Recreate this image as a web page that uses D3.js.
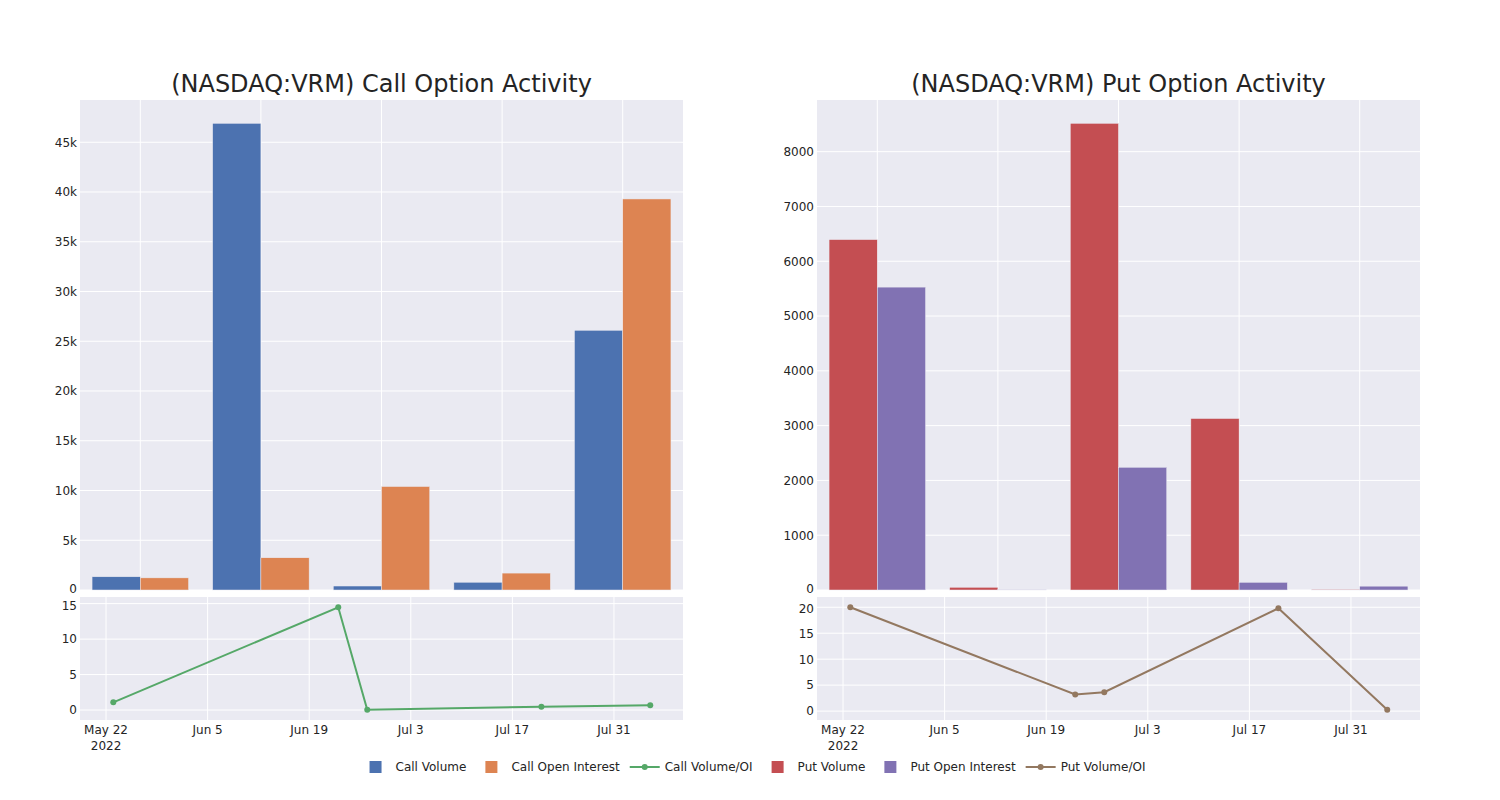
<!DOCTYPE html>
<html>
<head>
<meta charset="utf-8">
<script src="https://cdn.jsdelivr.net/npm/d3@7"></script>
<style>
  html, body { margin: 0; padding: 0; background: #fff; }
  svg text { font-family: "DejaVu Sans", verdana, arial, sans-serif; fill: rgb(36,36,36); }
</style>
</head>
<body>
<svg id="chart" width="1500" height="800"></svg>
<script>
// ---------------- DATA ----------------
const barCategories = ["A", "B", "C", "D", "E"];
const callVolume = [1330, 46900, 400, 780, 26100];
const callOpenInterest = [1220, 3240, 10400, 1700, 39300];
const putVolume = [6395, 50, 8517, 3130, 12];
const putOpenInterest = [5528, 6, 2240, 140, 70];

const ratioDates = ["2022-05-23", "2022-06-23", "2022-06-27", "2022-07-21", "2022-08-05"];
const callVolumeOI = [1.08, 14.49, 0.04, 0.46, 0.66];
const putVolumeOI = [20.0, 3.19, 3.64, 19.8, 0.26];

const titles = ["(NASDAQ:VRM) Call Option Activity", "(NASDAQ:VRM) Put Option Activity"];
const legendLabels = ["Call Volume", "Call Open Interest", "Call Volume/OI", "Put Volume", "Put Open Interest", "Put Volume/OI"];

// ---------------- STYLE ----------------
const FONT = '"DejaVu Sans", verdana, arial, sans-serif';
const colors = {
  callVol: "#4c72b0", callOI: "#dd8452", callRatio: "#55a868",
  putVol: "#c44e52", putOI: "#8172b3", putRatio: "#937860"
};
const plotBg = "rgb(234,234,242)";

const svg = d3.select("#chart");
const parse = d3.timeParse("%Y-%m-%d");
const dates = ratioDates.map(parse);

const panels = [
  { x0: 80, x1: 683, title: titles[0], a: callVolume, b: callOpenInterest, ca: colors.callVol, cb: colors.callOI,
    ratio: callVolumeOI, cr: colors.callRatio, fmt: d3.format("~s"), step: 5000, rstep: 5 },
  { x0: 817, x1: 1420, title: titles[1], a: putVolume, b: putOpenInterest, ca: colors.putVol, cb: colors.putOI,
    ratio: putVolumeOI, cr: colors.putRatio, fmt: d3.format("d"), step: 1000, rstep: 5 }
];
const topY0 = 100, topY1 = 590, botY0 = 597, botY1 = 720;

panels.forEach(p => {
  const g = svg.append("g");
  g.append("rect").attr("x", p.x0).attr("y", topY0).attr("width", p.x1 - p.x0).attr("height", topY1 - topY0).attr("fill", plotBg);
  g.append("rect").attr("x", p.x0).attr("y", botY0).attr("width", p.x1 - p.x0).attr("height", botY1 - botY0).attr("fill", plotBg);

  // ---- top bar panel ----
  const x = d3.scaleBand().domain(barCategories).range([p.x0, p.x1]).paddingInner(0.2).paddingOuter(0.1);
  const xc = d3.scaleBand().domain(barCategories).range([p.x0, p.x1]);
  const maxV = d3.max(p.a.concat(p.b));
  const y = d3.scaleLinear().domain([0, maxV * 1.05]).range([topY1, topY0]);
  const yTicks = d3.range(0, maxV * 1.05, p.step);

  g.append("g").selectAll("line").data(yTicks).join("line")
    .attr("x1", p.x0).attr("x2", p.x1).attr("y1", d => y(d)).attr("y2", d => y(d))
    .attr("stroke", "#fff").attr("stroke-width", 1);
  g.append("g").selectAll("line").data(barCategories).join("line")
    .attr("x1", d => xc(d) + xc.bandwidth() / 2).attr("x2", d => xc(d) + xc.bandwidth() / 2)
    .attr("y1", topY0).attr("y2", topY1).attr("stroke", "#fff").attr("stroke-width", 1);

  const sub = d3.scaleBand().domain(["a", "b"]).range([0, x.bandwidth()]);
  [["a", p.a, p.ca], ["b", p.b, p.cb]].forEach(([k, vals, col]) => {
    g.append("g").selectAll("rect").data(vals).join("rect")
      .attr("x", (d, i) => x(barCategories[i]) + sub(k))
      .attr("width", sub.bandwidth())
      .attr("y", d => y(d)).attr("height", d => y(0) - y(d))
      .attr("fill", col).attr("stroke", plotBg).attr("stroke-width", 0.5);
  });

  const ya = g.append("g").attr("transform", `translate(${p.x0},0)`)
    .call(d3.axisLeft(y).tickValues(yTicks).tickFormat(p.fmt).tickSize(0).tickPadding(3));
  ya.select(".domain").remove();
  ya.selectAll("text").attr("font-size", 12).style("font-family", FONT).attr("fill", "rgb(36,36,36)")
    .attr("dy", d => d === 0 ? "0.2em" : "0.32em");

  g.append("text").attr("x", (p.x0 + p.x1) / 2).attr("y", 92).attr("text-anchor", "middle")
    .attr("font-size", 24).text(p.title);

  // ---- bottom ratio panel ----
  const tMin = d3.min(dates), tMax = d3.max(dates);
  const span = tMax - tMin;
  const xt = d3.scaleTime().domain([new Date(+tMin - span * 0.062), new Date(+tMax + span * 0.061)]).range([p.x0, p.x1]);
  const rMin = d3.min(p.ratio), rMax = d3.max(p.ratio), rSpan = rMax - rMin;
  const yr = d3.scaleLinear().domain([rMin - rSpan * 0.1, rMax + rSpan * 0.1]).range([botY1, botY0]);
  const rTicks = d3.range(0, rMax + rSpan * 0.1, p.rstep);
  const dTicks = d3.timeDay.range(parse("2022-05-22"), xt.domain()[1]).filter((d, i) => i % 14 === 0)
    .filter(d => d >= xt.domain()[0]);

  g.append("g").selectAll("line").data(rTicks).join("line")
    .attr("x1", p.x0).attr("x2", p.x1).attr("y1", d => yr(d)).attr("y2", d => yr(d))
    .attr("stroke", "#fff").attr("stroke-width", 1);
  g.append("g").selectAll("line").data(dTicks).join("line")
    .attr("x1", d => xt(d)).attr("x2", d => xt(d)).attr("y1", botY0).attr("y2", botY1)
    .attr("stroke", "#fff").attr("stroke-width", 1);

  const yra = g.append("g").attr("transform", `translate(${p.x0},0)`)
    .call(d3.axisLeft(yr).tickValues(rTicks).tickFormat(d3.format("d")).tickSize(0).tickPadding(3));
  yra.select(".domain").remove();
  yra.selectAll("text").attr("font-size", 12).style("font-family", FONT).attr("fill", "rgb(36,36,36)")
    .attr("dy", (d, i, n) => i === n.length - 1 ? "0.45em" : "0.32em");

  const fmtDate = d3.timeFormat("%b %-d");
  const xl = g.append("g").selectAll("text").data(dTicks).join("text")
    .attr("x", d => xt(d)).attr("y", botY1 + 14).attr("text-anchor", "middle").attr("font-size", 12);
  xl.append("tspan").attr("x", d => xt(d)).text(d => fmtDate(d));
  xl.filter((d, i) => i === 0).append("tspan").attr("x", d => xt(d)).attr("dy", 16).text(d => d3.timeFormat("%Y")(d));

  const line = d3.line().x((d, i) => xt(dates[i])).y(d => yr(d));
  g.append("path").datum(p.ratio).attr("d", line).attr("fill", "none").attr("stroke", p.cr).attr("stroke-width", 2);
  g.append("g").selectAll("circle").data(p.ratio).join("circle")
    .attr("cx", (d, i) => xt(dates[i])).attr("cy", d => yr(d)).attr("r", 3).attr("fill", p.cr);
});

// ---------------- LEGEND ----------------
const legendItems = [
  { label: legendLabels[0], color: colors.callVol, type: "bar" },
  { label: legendLabels[1], color: colors.callOI, type: "bar" },
  { label: legendLabels[2], color: colors.callRatio, type: "line" },
  { label: legendLabels[3], color: colors.putVol, type: "bar" },
  { label: legendLabels[4], color: colors.putOI, type: "bar" },
  { label: legendLabels[5], color: colors.putRatio, type: "line" }
];
const lg = svg.append("g");
const ly = 767;
const items = lg.selectAll("g").data(legendItems).join("g");
items.append("text").attr("x", 40).attr("y", 0).attr("dy", "0.35em").attr("font-size", 12).text(d => d.label);
let widths = [];
items.each(function () { widths.push(d3.select(this).select("text").node().getComputedTextLength() + 40 + 5); });
const total = d3.sum(widths);
let cx = 750 - total / 2 + 3;
items.attr("transform", (d, i) => { const t = `translate(${cx},${ly})`; cx += widths[i]; return t; });
items.filter(d => d.type === "bar").append("rect").attr("x", 14).attr("y", -6).attr("width", 12).attr("height", 12)
  .attr("fill", d => d.color);
items.filter(d => d.type === "line").append("line").attr("x1", 5).attr("x2", 35).attr("y1", 0).attr("y2", 0)
  .attr("stroke", d => d.color).attr("stroke-width", 2);
items.filter(d => d.type === "line").append("circle").attr("cx", 20).attr("cy", 0).attr("r", 3).attr("fill", d => d.color);
</script>
</body>
</html>
